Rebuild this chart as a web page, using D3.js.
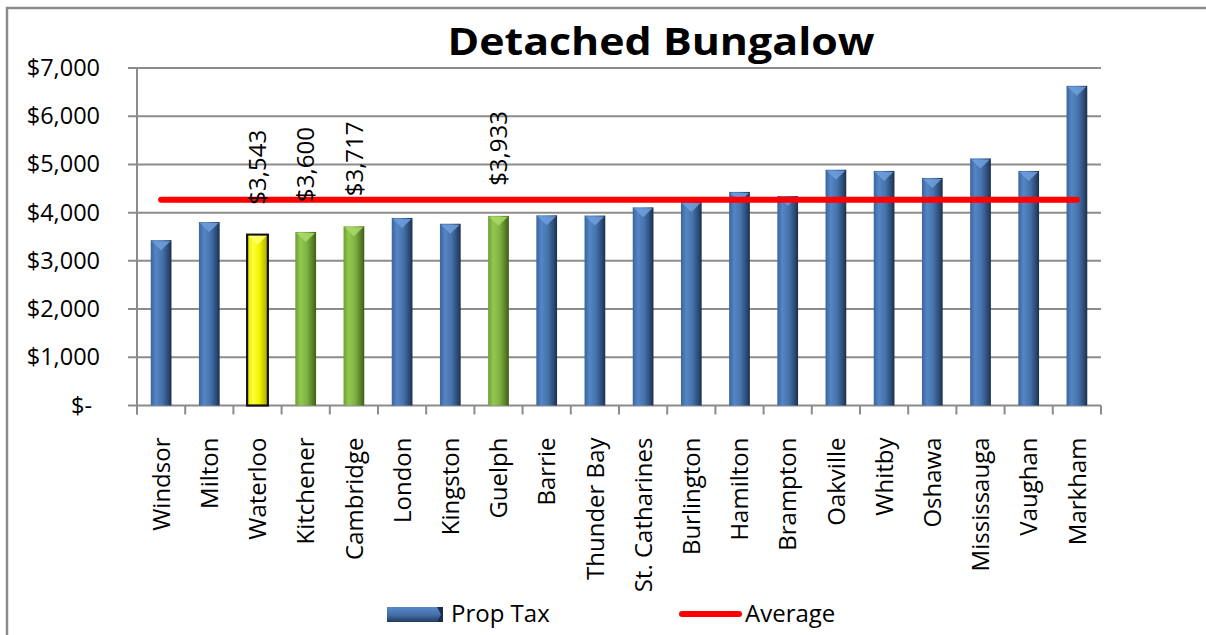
<!DOCTYPE html>
<html>
<head>
<meta charset="utf-8">
<script src="https://cdn.jsdelivr.net/npm/d3@7"></script>
<style>
  body { margin: 0; background: #fff; }
  text { font-family: "Open Sans", sans-serif; fill: #000; }
</style>
</head>
<body>
<svg id="chart"></svg>
<script>
const cities = ['Windsor', 'Milton', 'Waterloo', 'Kitchener', 'Cambridge', 'London', 'Kingston',
  'Guelph', 'Barrie', 'Thunder Bay', 'St. Catharines', 'Burlington', 'Hamilton', 'Brampton',
  'Oakville', 'Whitby', 'Oshawa', 'Mississauga', 'Vaughan', 'Markham'];
const propTax = [3430, 3805, 3543, 3600, 3717, 3890, 3770, 3933, 3945, 3940, 4110, 4220, 4430,
  4345, 4890, 4865, 4720, 5125, 4865, 6630];
const average = [4265, 4265, 4265, 4265, 4265, 4265, 4265, 4265, 4265, 4265, 4265, 4265, 4265,
  4265, 4265, 4265, 4265, 4265, 4265, 4265];
const yTicks = [0, 1000, 2000, 3000, 4000, 5000, 6000, 7000];
const yellowCities = ['Waterloo'];
const greenCities = ['Kitchener', 'Cambridge', 'Guelph'];
const labelledCities = ['Waterloo', 'Kitchener', 'Cambridge', 'Guelph'];
const legendNames = ['Prop Tax', 'Average'];

const width = 1206, height = 635;
const margin = { top: 68, right: 105, bottom: 229.5, left: 137 };

const svg = d3.select('#chart').attr('width', width).attr('height', height);
const defs = svg.append('defs');

function gradient(id, stops, vertical) {
  const g = defs.append('linearGradient').attr('id', id)
    .attr('x1', 0).attr('y1', 0).attr('x2', vertical ? 0 : 1).attr('y2', vertical ? 1 : 0);
  stops.forEach(s => g.append('stop').attr('offset', s[0]).attr('stop-color', s[1]));
}
gradient('blue', [[0, '#3a659c'], [0.25, '#5585c5'], [0.55, '#4773ad'], [0.85, '#2b4a74'], [1, '#1a2e4a']]);
gradient('green', [[0, '#6e9d35'], [0.25, '#93c84f'], [0.55, '#7fb342'], [0.85, '#557d27'], [1, '#3d5c1b']]);
gradient('yellow', [[0, '#e6e600'], [0.3, '#ffff3a'], [0.6, '#f2f200'], [1, '#a8a800']]);
gradient('blueLegend', [[0, '#5a8ac9'], [0.5, '#4471aa'], [1, '#223c60']], true);

const x = d3.scaleBand()
  .domain(cities)
  .range([margin.left, width - margin.right])
  .padding(0);

const y = d3.scaleLinear()
  .domain([0, 7000])
  .range([height - margin.bottom, margin.top]);

const barW = x.bandwidth() * 0.43;
const grid = '#8c8c8c';

// frame
svg.append('path')
  .attr('d', `M7,${height} V8 H${width}`)
  .attr('fill', 'none').attr('stroke', '#8a8a8a').attr('stroke-width', 2.5);

// gridlines + y ticks
svg.append('g')
  .selectAll('line')
  .data(yTicks)
  .join('line')
  .attr('x1', margin.left - 9).attr('x2', width - margin.right)
  .attr('y1', d => y(d)).attr('y2', d => y(d))
  .attr('stroke', grid).attr('stroke-width', 2);

const yAxis = svg.append('g')
  .attr('transform', `translate(${margin.left},0)`)
  .call(d3.axisLeft(y).tickValues(yTicks).tickSize(0).tickPadding(37)
    .tickFormat(d => d === 0 ? '$-' : d3.format('$,')(d)));
yAxis.select('.domain').remove();
yAxis.selectAll('text')
  .style('font-size', '23.5px')
  .style('font-family', '"Open Sans", sans-serif')
  .attr('dx', d => d === 0 ? -8 : 0);

// y axis line
svg.append('line')
  .attr('x1', margin.left).attr('x2', margin.left)
  .attr('y1', y(7000)).attr('y2', y(0) + 9)
  .attr('stroke', grid).attr('stroke-width', 2);

// x ticks at band edges
const edges = cities.map(c => x(c)).concat([x(cities[cities.length - 1]) + x.bandwidth()]);
svg.append('g')
  .selectAll('line')
  .data(edges)
  .join('line')
  .attr('x1', d => d).attr('x2', d => d)
  .attr('y1', y(0)).attr('y2', y(0) + 9)
  .attr('stroke', grid).attr('stroke-width', 2);

// x axis labels
const xAxis = svg.append('g')
  .attr('transform', `translate(0,${y(0)})`)
  .call(d3.axisBottom(x).tickSize(0).tickPadding(0));
xAxis.select('.domain').remove();
xAxis.selectAll('text')
  .style('font-size', '24px')
  .style('font-family', '"Open Sans", sans-serif')
  .style('text-anchor', 'end')
  .attr('transform', 'rotate(-90)')
  .attr('x', -32).attr('y', 0).attr('dy', '0.36em');

function barFill(c) {
  if (yellowCities.includes(c)) return 'yellow';
  if (greenCities.includes(c)) return 'green';
  return 'blue';
}
const topColor = { blue: '#6f9fdc', green: '#a8da6a', yellow: '#ffff70' };

const bars = cities.map((c, i) => ({ city: c, value: propTax[i], kind: barFill(c) }));

const barG = svg.append('g');
barG.selectAll('rect')
  .data(bars)
  .join('rect')
  .attr('x', d => x(d.city) + (x.bandwidth() - barW) / 2)
  .attr('y', d => y(d.value))
  .attr('width', barW)
  .attr('height', d => y(0) - y(d.value))
  .attr('fill', d => `url(#${d.kind})`)
  .attr('stroke', d => d.kind === 'yellow' ? '#111' : 'none')
  .attr('stroke-width', 2.2);

barG.selectAll('path')
  .data(bars)
  .join('path')
  .attr('d', d => {
    const x0 = x(d.city) + (x.bandwidth() - barW) / 2, x1 = x0 + barW, t = y(d.value);
    return `M${x0 + 1},${t + 1} L${x1 - 1},${t + 1} L${(x0 + x1) / 2},${t + 10} Z`;
  })
  .attr('fill', d => topColor[d.kind])
  .attr('opacity', 0.85);

// average line
const line = d3.line()
  .x((d, i) => x(cities[i]) + x.bandwidth() / 2)
  .y(d => y(d));
svg.append('path')
  .datum(average)
  .attr('d', line)
  .attr('fill', 'none')
  .attr('stroke', '#ff0000')
  .attr('stroke-width', 6)
  .attr('stroke-linecap', 'round');

// data labels
svg.append('g')
  .selectAll('text')
  .data(bars.filter(d => labelledCities.includes(d.city)))
  .join('text')
  .attr('transform', d => `translate(${x(d.city) + x.bandwidth() / 2},${y(d.value) - 30}) rotate(-90)`)
  .attr('dy', '0.36em')
  .style('font-size', '24px')
  .text(d => d3.format('$,')(d.value));

// title
svg.append('text')
  .attr('x', 661).attr('y', 55)
  .attr('text-anchor', 'middle')
  .attr('textLength', 427)
  .attr('lengthAdjust', 'spacingAndGlyphs')
  .style('font-size', '37px')
  .style('font-weight', 'bold')
  .text('Detached Bungalow');

// legend
const lg = svg.append('g');
lg.append('rect')
  .attr('x', 387).attr('y', 607).attr('width', 56).attr('height', 15)
  .attr('fill', 'url(#blueLegend)');
lg.append('path')
  .attr('d', 'M437,607 L443,607 L443,622 L437,622 L441,614.5 Z')
  .attr('fill', '#1a2e4a');
lg.append('text')
  .attr('x', 451).attr('y', 622)
  .style('font-size', '24px')
  .text(legendNames[0]);
lg.append('line')
  .attr('x1', 682).attr('x2', 739).attr('y1', 614).attr('y2', 614)
  .attr('stroke', '#ff0000').attr('stroke-width', 6).attr('stroke-linecap', 'round');
lg.append('text')
  .attr('x', 745).attr('y', 622)
  .style('font-size', '24px')
  .text(legendNames[1]);
</script>
</body>
</html>
